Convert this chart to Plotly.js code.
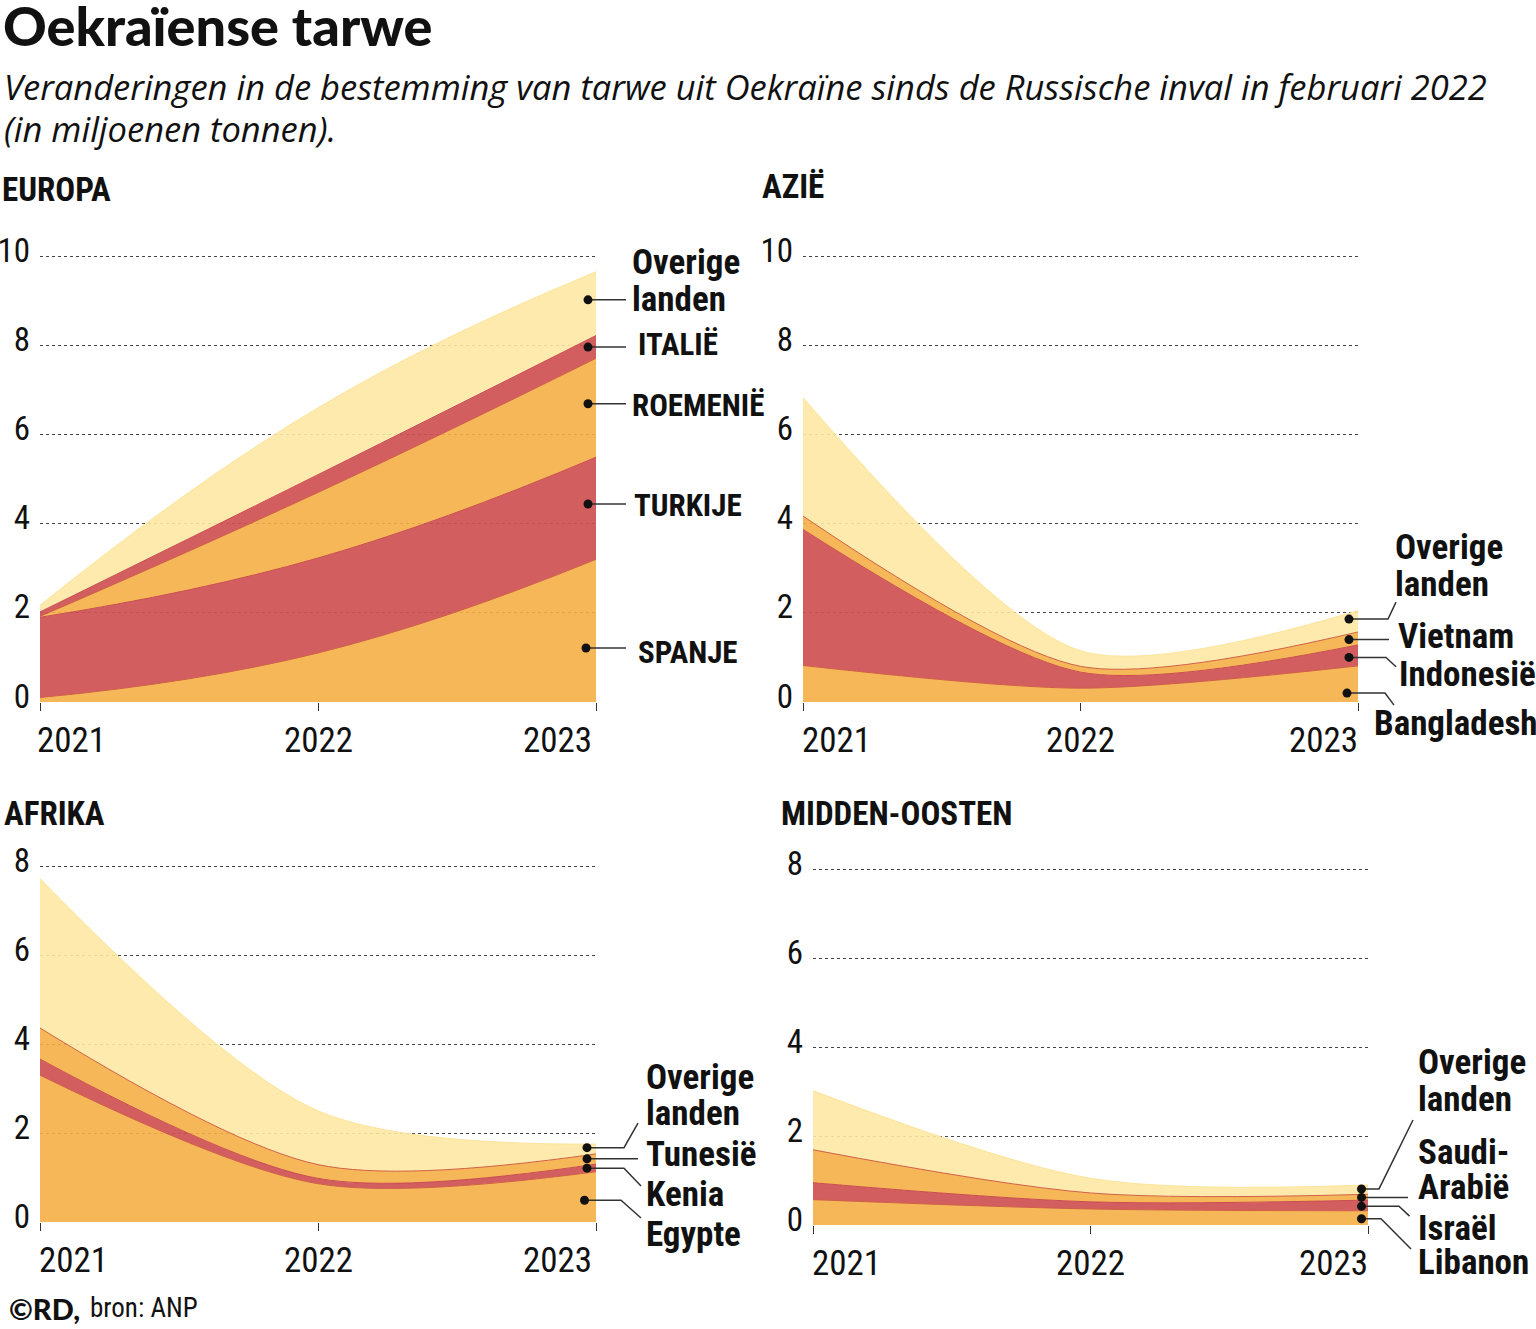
<!DOCTYPE html>
<html>
<head>
<meta charset="utf-8">
<script src="https://cdn.plot.ly/plotly-3.0.1.min.js"></script>
<style>html,body{margin:0;padding:0;background:#fff;}#chart{width:1536px;height:1329px;}</style>
</head>
<body>
<div id="chart"></div>
<script>
// ---------------- DATA (million tonnes) ----------------
const years = [2021, 2022, 2023];

// Europa
const euNames    = ['SPANJE', 'TURKIJE', 'ROEMENIË', 'ITALIË', 'Overige landen'];
const euSpanje   = [0.10, 1.10, 3.20];
const euTurkije  = [1.80, 2.13, 2.29];
const euRoemenie = [0.02, 1.47, 2.22];
const euItalie   = [0.10, 0.40, 0.51];
const euOverige  = [0.15, 1.50, 1.43];

// Azië
const asNames      = ['Bangladesh', 'Indonesië', 'Vietnam', 'Overige landen'];
const asBangladesh = [0.82, 0.31, 0.81];
const asIndonesie  = [3.05, 0.36, 0.47];
const asVietnam    = [0.30, 0.13, 0.29];
const asOverige    = [2.66, 0.35, 0.48];

// Afrika
const afNames   = ['Egypte', 'Kenia', 'Tunesië', 'Overige landen'];
const afEgypte  = [3.30, 0.86, 1.13];
const afKenia   = [0.36, 0.12, 0.17];
const afTunesie = [0.70, 0.31, 0.23];
const afOverige = [3.36, 1.21, 0.22];

// Midden-Oosten
const moNames   = ['Libanon', 'Israël', 'Saudi-Arabië', 'Overige landen'];
const moLibanon = [0.57, 0.36, 0.32];
const moIsrael  = [0.38, 0.16, 0.24];
const moSaudi   = [0.74, 0.20, 0.13];
const moOverige = [1.33, 0.33, 0.21];

const yTicks10 = [0, 2, 4, 6, 8, 10];
const yTicks8  = [0, 2, 4, 6, 8];

// ---------------- STYLE ----------------
const W = 1536, H = 1329;
const COND = '"Roboto Condensed", "Open Sans Condensed", sans-serif';
const STY = {
  orange: {fill: 'rgba(245,175,70,0.9)', line: '#cf5f45'},
  red:    {fill: 'rgba(207,80,82,0.92)', line: '#c94c4e'},
  yellow: {fill: 'rgba(254,232,163,0.9)', line: 'rgba(252,226,150,0.9)'}
};

const panels = [
  {title: 'EUROPA', tpos: [0, 190], left: 40, right: 596, top: 167, bottom: 702, ymax: 12, ticks: yTicks10, smooth: 1.3,
   names: euNames, series: [euSpanje, euTurkije, euRoemenie, euItalie, euOverige],
   colors: ['orange', 'red', 'orange', 'red', 'yellow'], yearShift: [-5, 0, -2],
   callouts: [
     {lines: [['Overige', 9.85], ['landen', 9.02]], tx: 34, size: 35, dot: [-8, 9.02], path: [[-4, 9.02], [30, 9.02]]},
     {lines: [['ITALIË', 8.01]], tx: 40, size: 31, dot: [-8, 7.96], path: [[-4, 7.96], [30, 7.96]]},
     {lines: [['ROEMENIË', 6.64]], tx: 34, size: 31, dot: [-8, 6.69], path: [[-4, 6.69], [30, 6.69]]},
     {lines: [['TURKIJE', 4.40]], tx: 36, size: 31, dot: [-8, 4.44], path: [[-4, 4.44], [30, 4.44]]},
     {lines: [['SPANJE', 1.12]], tx: 40, size: 31, dot: [-10, 1.21], path: [[-6, 1.21], [30, 1.21]]}
   ]},
  {title: 'AZIË', tpos: [760, 186], left: 803, right: 1358, top: 167, bottom: 702, ymax: 12, ticks: yTicks10, smooth: 0.8,
   names: asNames, series: [asBangladesh, asIndonesie, asVietnam, asOverige],
   colors: ['orange', 'red', 'orange', 'yellow'], yearShift: [-3, 0, 2],
   callouts: [
     {lines: [['Overige', 3.46], ['landen', 2.63]], tx: 35, size: 35, dot: [-9, 1.86], path: [[-5, 1.86], [30, 1.86], [38, 2.24]]},
     {lines: [['Vietnam', 1.46]], tx: 38, size: 35, dot: [-9, 1.40], path: [[-5, 1.40], [31, 1.40]]},
     {lines: [['Indonesië', 0.61]], tx: 39, size: 35, dot: [-9, 1.00], path: [[-5, 1.00], [28, 1.00], [38, 0.79]]},
     {lines: [['Bangladesh', -0.49]], tx: 14, size: 35, dot: [-11, 0.20], path: [[-7, 0.20], [27, 0.20], [36, -0.07]]}
   ]},
  {title: 'AFRIKA', tpos: [2, 813], left: 40, right: 596, top: 821.5, bottom: 1222, ymax: 9, ticks: yTicks8, smooth: 0.9,
   names: afNames, series: [afEgypte, afKenia, afTunesie, afOverige],
   colors: ['orange', 'red', 'orange', 'yellow'], yearShift: [-3, 0, -2],
   callouts: [
     {lines: [['Overige', 3.24], ['landen', 2.43]], tx: 48, size: 35, dot: [-9, 1.67], path: [[-5, 1.67], [28, 1.67], [42, 2.22]]},
     {lines: [['Tunesië', 1.51]], tx: 48, size: 35, dot: [-9, 1.42], path: [[-5, 1.42], [42, 1.42]]},
     {lines: [['Kenia', 0.61]], tx: 48, size: 35, dot: [-9, 1.21], path: [[-5, 1.21], [28, 1.21], [45, 0.81]]},
     {lines: [['Egypte', -0.28]], tx: 48, size: 35, dot: [-11.5, 0.49], path: [[-7, 0.49], [25, 0.49], [45, 0.09]]}
   ]},
  {title: 'MIDDEN-OOSTEN', tpos: [779, 813], left: 813, right: 1368, top: 824.5, bottom: 1225, ymax: 9, ticks: yTicks8, smooth: 0.9,
   names: moNames, series: [moLibanon, moIsrael, moSaudi, moOverige],
   colors: ['orange', 'red', 'orange', 'yellow'], yearShift: [-3, 0, 2],
   callouts: [
     {lines: [['Overige', 3.66], ['landen', 2.81]], tx: 48, size: 35, dot: [-6.5, 0.81], path: [[-3, 0.81], [11, 0.81], [45, 2.36]]},
     {lines: [['Saudi-', 1.64], ['Arabië', 0.85]], tx: 48, size: 35, dot: [-6.5, 0.62], path: [[-3, 0.62], [40, 0.62]]},
     {lines: [['Israël', -0.07]], tx: 48, size: 35, dot: [-6.5, 0.42], path: [[-3, 0.42], [31, 0.42], [41.5, 0.20]]},
     {lines: [['Libanon', -0.85]], tx: 48, size: 35, dot: [-6.5, 0.14], path: [[-3, 0.14], [13, 0.14], [43, -0.54]]}
   ]}
];

// ---------------- BUILD ----------------
const px = v => v / W;
const py = v => 1 - v / H;
const traces = [];
const layout = {
  width: W, height: H, autosize: false,
  margin: {l: 0, r: 0, t: 0, b: 0},
  paper_bgcolor: '#fff', plot_bgcolor: 'rgba(0,0,0,0)',
  showlegend: false,
  font: {family: COND, color: '#111'},
  annotations: [], shapes: []
};

function ann(o) { layout.annotations.push(Object.assign({showarrow: false, xref: 'paper', yref: 'paper'}, o)); }

// page titles
ann({text: 'Oekraïense tarwe', x: px(1), y: py(25), xanchor: 'left', yanchor: 'middle',
     font: {family: 'Lato, sans-serif', size: 54, weight: 900, color: '#111'}});
ann({text: 'Veranderingen in de bestemming van tarwe uit Oekraïne sinds de Russische inval in februari 2022',
     x: px(2), y: py(86), xanchor: 'left', yanchor: 'middle',
     font: {family: '"Open Sans", sans-serif', size: 34.5, style: 'italic', color: '#111'}});
ann({text: '(in miljoenen tonnen).', x: px(2), y: py(128), xanchor: 'left', yanchor: 'middle',
     font: {family: '"Open Sans", sans-serif', size: 34.5, style: 'italic', color: '#111'}});
ann({text: '©RD,', x: px(7), y: py(1308), xanchor: 'left', yanchor: 'middle',
     font: {family: 'Lato, sans-serif', size: 29, weight: 900, color: '#111'}});
ann({text: 'bron: ANP', x: px(88), y: py(1308), xanchor: 'left', yanchor: 'middle',
     font: {family: COND, size: 27, color: '#111'}});

panels.forEach((p, i) => {
  const n = i === 0 ? '' : String(i + 1);
  const xa = 'x' + n, ya = 'y' + n;
  const yOf = v => p.bottom - v * (p.bottom - p.top) / p.ymax;

  p.series.forEach((vals, k) => {
    const s = STY[p.colors[k]];
    traces.push({
      type: 'scatter', mode: 'lines', x: years, y: vals, name: p.names[k],
      xaxis: xa, yaxis: ya, stackgroup: 'g' + i,
      line: {shape: 'spline', smoothing: p.smooth, width: 1, color: s.line},
      fillcolor: s.fill, hoverinfo: 'skip'
    });
  });

  layout['xaxis' + n] = {
    domain: [px(p.left), px(p.right)], range: [years[0], years[years.length - 1]],
    anchor: ya, showgrid: false, zeroline: false, showline: false,
    tickvals: years, ticks: 'outside', ticklen: 8, tickwidth: 1, tickcolor: '#333',
    showticklabels: false, fixedrange: true
  };
  layout['yaxis' + n] = {
    domain: [py(p.bottom), py(p.top)], range: [0, p.ymax], anchor: xa,
    tickvals: p.ticks, showgrid: true, gridcolor: '#444', griddash: 'dot', gridwidth: 1,
    zeroline: false, showline: false, ticks: '',
    tickfont: {family: COND, size: 33, color: '#111'},
    ticklabelstandoff: 9, ticklabelshift: -6, fixedrange: true
  };

  // panel title
  ann({text: p.title, x: px(p.tpos[0]), y: py(p.tpos[1]), xanchor: 'left', yanchor: 'middle',
       font: {family: COND, size: 33, weight: 700, color: '#111'}});

  // year labels
  const anchors = ['left', 'center', 'right'];
  years.forEach((yr, k) => {
    ann({text: String(yr), xref: xa, x: yr, y: py(p.bottom), yref: 'paper',
         xanchor: anchors[k], yanchor: 'middle', xshift: p.yearShift[k], yshift: -38,
         font: {family: COND, size: 35, color: '#111'}});
  });

  // callouts
  p.callouts.forEach(c => {
    const pts = c.path.map(q => [px(p.right + q[0]), py(yOf(q[1]))]);
    layout.shapes.push({
      type: 'path', xref: 'paper', yref: 'paper',
      path: 'M ' + pts.map(q => q[0] + ',' + q[1]).join(' L '),
      line: {color: '#333', width: 1.5}
    });
    layout.shapes.push({
      type: 'circle', xref: 'paper', yref: 'paper',
      xsizemode: 'pixel', ysizemode: 'pixel',
      xanchor: px(p.right + c.dot[0]), yanchor: py(yOf(c.dot[1])),
      x0: -4.5, x1: 4.5, y0: -4.5, y1: 4.5,
      fillcolor: '#111', line: {width: 0}
    });
    c.lines.forEach(l => {
      ann({text: l[0], x: px(p.right + c.tx), y: py(yOf(l[1])), xanchor: 'left', yanchor: 'middle',
           font: {family: COND, size: c.size, weight: 700, color: '#111'}});
    });
  });
});

Plotly.newPlot('chart', traces, layout, {staticPlot: true, displayModeBar: false});
</script>
</body>
</html>
